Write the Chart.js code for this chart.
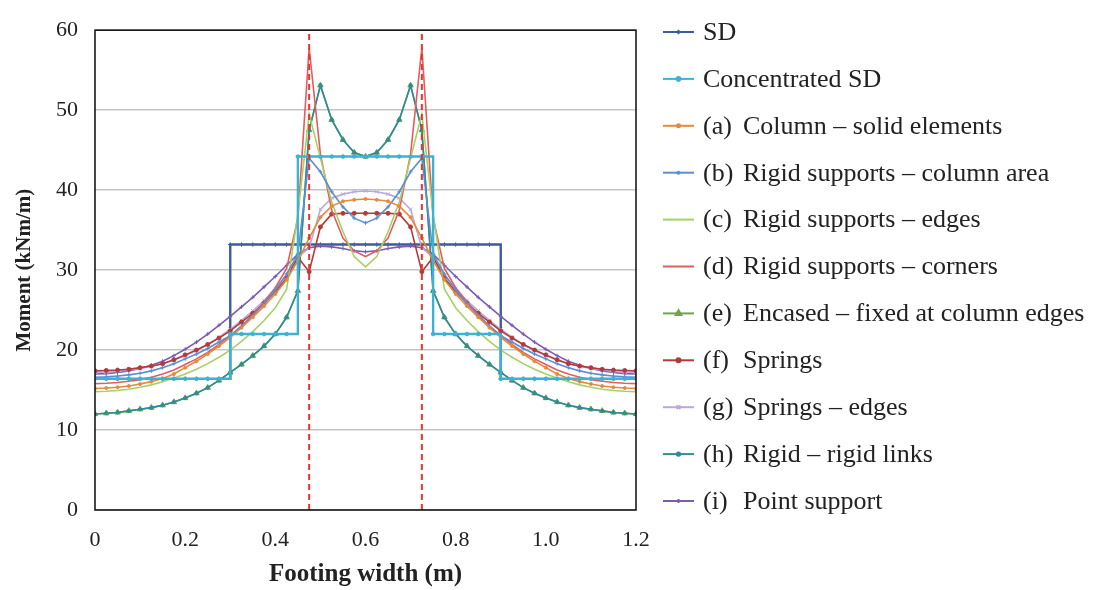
<!DOCTYPE html>
<html>
<head>
<meta charset="utf-8">
<title>Moment across footing width</title>
<script src="https://cdn.jsdelivr.net/npm/chart.js@4.4.1/dist/chart.umd.min.js"></script>
<style>
  html, body { margin: 0; padding: 0; background: #fff; }
</style>
</head>
<body>
<canvas id="momentChart" width="1097" height="590"></canvas>
<script>
// Footing width positions (m), one value every 25 mm
const widths = [
  0, 0.025, 0.05, 0.075, 0.1, 0.125, 0.15, 0.175, 0.2, 0.225, 0.25, 0.275,
  0.3, 0.325, 0.35, 0.375, 0.4, 0.425, 0.45, 0.475, 0.5, 0.525, 0.55, 0.575,
  0.6, 0.625, 0.65, 0.675, 0.7, 0.725, 0.75, 0.775, 0.8, 0.825, 0.85, 0.875,
  0.9, 0.925, 0.95, 0.975, 1.0, 1.025, 1.05, 1.075, 1.1, 1.125, 1.15, 1.175, 1.2,
];

// Column faces (m) and the moment range (kNm/m) of the guide lines
const columnEdges = [0.475, 0.725];
const momentRange = [0, 60];

const seriesNames = [
  "SD",
  "Concentrated SD",
  "(a) Column – solid elements",
  "(b) Rigid supports – column area",
  "(c) Rigid supports – edges",
  "(d) Rigid supports – corners",
  "(e) Encased – fixed at column edges",
  "(f) Springs",
  "(g) Springs – edges",
  "(h) Rigid – rigid links",
  "(i) Point support",
];

// Moments (kNm/m)
const sd = [
  16.4, 16.4, 16.4, 16.4, 16.4, 16.4, 16.4, 16.4, 16.4, 16.4, 16.4, 16.4,
  33.2, 33.2, 33.2, 33.2, 33.2, 33.2, 33.2, 33.2, 33.2, 33.2, 33.2, 33.2,
  33.2, 33.2, 33.2, 33.2, 33.2, 33.2, 33.2, 33.2, 33.2, 33.2, 33.2, 33.2,
  16.4, 16.4, 16.4, 16.4, 16.4, 16.4, 16.4, 16.4, 16.4, 16.4, 16.4, 16.4, 16.4,
];
const concentratedSd = [
  16.4, 16.4, 16.4, 16.4, 16.4, 16.4, 16.4, 16.4, 16.4, 16.4, 16.4, 16.4,
  22.0, 22.0, 22.0, 22.0, 22.0, 22.0,
  44.2, 44.2, 44.2, 44.2, 44.2, 44.2, 44.2, 44.2, 44.2, 44.2, 44.2, 44.2,
  22.0, 22.0, 22.0, 22.0, 22.0, 22.0,
  16.4, 16.4, 16.4, 16.4, 16.4, 16.4, 16.4, 16.4, 16.4, 16.4, 16.4, 16.4, 16.4,
];
const columnSolid = [
  15.2, 15.25, 15.35, 15.5, 15.75, 16.05, 16.45, 17.0, 17.8, 18.6, 19.5, 20.5,
  21.6, 22.8, 24.1, 25.5, 27.0, 28.8, 31.2, 34.0, 36.6, 38.0, 38.6, 38.8,
  38.9, 38.8, 38.6, 38.0, 36.6, 34.0, 31.2, 28.8, 27.0, 25.5, 24.1, 22.8,
  21.6, 20.5, 19.5, 18.6, 17.8, 17.0, 16.45, 16.05, 15.75, 15.5, 15.35, 15.25, 15.2,
];
const rigidColumnArea = [
  16.6, 16.65, 16.75, 16.9, 17.1, 17.4, 17.8, 18.3, 18.9, 19.5, 20.2, 21.0,
  21.8, 23.0, 24.3, 25.8, 27.5, 29.5, 32.0, 44.0, 42.3, 39.8, 37.9, 36.5,
  35.9, 36.5, 37.9, 39.8, 42.3, 44.0, 32.0, 29.5, 27.5, 25.8, 24.3, 23.0,
  21.8, 21.0, 20.2, 19.5, 18.9, 18.3, 17.8, 17.4, 17.1, 16.9, 16.75, 16.65, 16.6,
];
const rigidEdges = [
  14.8, 14.85, 14.95, 15.1, 15.35, 15.65, 16.05, 16.5, 17.0, 17.6, 18.3, 19.1,
  20.0, 21.1, 22.3, 23.7, 25.3, 27.6, 37.0, 49.5, 44.0, 38.5, 34.8, 31.7,
  30.4, 31.7, 34.8, 38.5, 44.0, 49.5, 37.0, 27.6, 25.3, 23.7, 22.3, 21.1,
  20.0, 19.1, 18.3, 17.6, 17.0, 16.5, 16.05, 15.65, 15.35, 15.1, 14.95, 14.85, 14.8,
];
const rigidCorners = [
  15.8, 15.85, 15.95, 16.1, 16.3, 16.6, 17.0, 17.5, 18.2, 18.9, 19.7, 20.7,
  21.8, 23.0, 24.4, 26.0, 27.8, 30.2, 36.5, 57.8, 44.5, 37.5, 34.0, 32.4,
  31.7, 32.4, 34.0, 37.5, 44.5, 57.8, 36.5, 30.2, 27.8, 26.0, 24.4, 23.0,
  21.8, 20.7, 19.7, 18.9, 18.2, 17.5, 17.0, 16.6, 16.3, 16.1, 15.95, 15.85, 15.8,
];
const encased = [
  12.0, 12.1, 12.2, 12.4, 12.6, 12.8, 13.1, 13.5, 14.0, 14.6, 15.3, 16.2,
  17.2, 18.2, 19.3, 20.5, 22.0, 24.1, 27.4, 47.5, 53.1, 48.8, 46.3, 44.7,
  44.2, 44.7, 46.3, 48.8, 53.1, 47.5, 27.4, 24.1, 22.0, 20.5, 19.3, 18.2,
  17.2, 16.2, 15.3, 14.6, 14.0, 13.5, 13.1, 12.8, 12.6, 12.4, 12.2, 12.1, 12.0,
];
const springs = [
  17.4, 17.45, 17.5, 17.6, 17.8, 18.0, 18.3, 18.8, 19.4, 20.0, 20.7, 21.5,
  22.4, 23.5, 24.6, 25.9, 27.3, 29.0, 31.6, 29.8, 35.4, 37.0, 37.1, 37.1,
  37.1, 37.1, 37.1, 37.0, 35.4, 29.8, 31.6, 29.0, 27.3, 25.9, 24.6, 23.5,
  22.4, 21.5, 20.7, 20.0, 19.4, 18.8, 18.3, 18.0, 17.8, 17.6, 17.5, 17.45, 17.4,
];
const springsEdges = [
  17.2, 17.25, 17.35, 17.5, 17.7, 17.95, 18.3, 18.75, 19.3, 19.95, 20.7, 21.6,
  22.6, 23.7, 24.9, 26.2, 27.7, 29.4, 31.6, 32.8, 37.6, 39.0, 39.5, 39.8,
  39.9, 39.8, 39.5, 39.0, 37.6, 32.8, 31.6, 29.4, 27.7, 26.2, 24.9, 23.7,
  22.6, 21.6, 20.7, 19.95, 19.3, 18.75, 18.3, 17.95, 17.7, 17.5, 17.35, 17.25, 17.2,
];
const rigidLinks = [
  12.0, 12.1, 12.2, 12.4, 12.6, 12.8, 13.1, 13.5, 14.0, 14.6, 15.3, 16.2,
  17.2, 18.2, 19.3, 20.5, 22.0, 24.1, 27.4, 47.5, 53.1, 48.8, 46.3, 44.7,
  44.2, 44.7, 46.3, 48.8, 53.1, 47.5, 27.4, 24.1, 22.0, 20.5, 19.3, 18.2,
  17.2, 16.2, 15.3, 14.6, 14.0, 13.5, 13.1, 12.8, 12.6, 12.4, 12.2, 12.1, 12.0,
];
const pointSupport = [
  17.0, 17.05, 17.2, 17.4, 17.7, 18.1, 18.6, 19.3, 20.1, 21.0, 22.0, 23.1,
  24.2, 25.4, 26.6, 27.9, 29.2, 30.6, 32.0, 32.8, 33.0, 32.9, 32.7, 32.4,
  32.3, 32.4, 32.7, 32.9, 33.0, 32.8, 32.0, 30.6, 29.2, 27.9, 26.6, 25.4,
  24.2, 23.1, 22.0, 21.0, 20.1, 19.3, 18.6, 18.1, 17.7, 17.4, 17.2, 17.05, 17.0,
];

const FONTE = "'Liberation Serif', 'DejaVu Serif', serif";

function serie(label, valores, cor, extra) {
  return {
    label,
    data: widths.map((x, i) => ({ x, y: valores[i] })),
    borderColor: cor,
    backgroundColor: cor,
    pointBorderColor: cor,
    pointBackgroundColor: cor,
    borderWidth: 1.6,
    pointRadius: 0,
    pointBorderWidth: 1,
    ...extra,
  };
}

const guias = columnEdges.map((x) => ({
  label: "",
  data: momentRange.map((y) => ({ x, y })),
  borderColor: "#e8352f",
  borderWidth: 2,
  borderDash: [6, 4],
  pointRadius: 0,
}));

// order 1 = desenhado por baixo das outras curvas
const series = [
  serie(seriesNames[0], sd, "#3d5c9c", { stepped: true, borderWidth: 2.4, pointStyle: "cross", pointRadius: 2.2, order: 1 }),
  serie(seriesNames[1], concentratedSd, "#3db2d2", { stepped: true, borderWidth: 2.4, pointStyle: "circle", pointRadius: 1.8 }),
  serie(seriesNames[2], columnSolid, "#e58a3c", { pointStyle: "circle", pointRadius: 1.5 }),
  serie(seriesNames[3], rigidColumnArea, "#5a8ed6", { pointStyle: "cross", pointRadius: 2 }),
  serie(seriesNames[4], rigidEdges, "#a8d065"),
  serie(seriesNames[5], rigidCorners, "#e35d5d"),
  serie(seriesNames[6], encased, "#6ea54a", { pointStyle: "triangle", pointRadius: 3.2, order: 1 }),
  serie(seriesNames[7], springs, "#b23a3a", { pointStyle: "circle", pointRadius: 2 }),
  serie(seriesNames[8], springsEdges, "#b9a9dc", { pointStyle: "crossRot", pointRadius: 2.6 }),
  serie(seriesNames[9], rigidLinks, "#2f8c98", { pointStyle: "circle", pointRadius: 1.6 }),
  serie(seriesNames[10], pointSupport, "#7b5cb3", { pointStyle: "cross", pointRadius: 2 }),
];

// legenda desenhada a direita do grafico
const legendaLateral = {
  id: "legendaLateral",
  afterDraw(chart) {
    const ctx = chart.ctx;
    ctx.save();
    ctx.font = `26px ${FONTE}`;
    ctx.textBaseline = "middle";
    series.forEach((ds, i) => {
      const y = 32 + i * 46.9;
      ctx.strokeStyle = ds.borderColor;
      ctx.lineWidth = 2;
      ctx.setLineDash([]);
      ctx.beginPath();
      ctx.moveTo(663, y);
      ctx.lineTo(694, y);
      ctx.stroke();
      if (ds.pointRadius > 0) {
        ctx.fillStyle = ds.borderColor;
        Chart.helpers.drawPoint(ctx, {
          pointStyle: ds.pointStyle,
          radius: ds.pointRadius,
          rotation: 0,
          borderWidth: 1,
        }, 678.5, y);
      }
      ctx.fillStyle = "#222";
      const partes = ds.label.match(/^(\(\w\))\s+(.*)$/);
      if (partes) {
        ctx.fillText(partes[1], 703, y + 1);
        ctx.fillText(partes[2], 743, y + 1);
      } else {
        ctx.fillText(ds.label, 703, y + 1);
      }
    });
    ctx.restore();
  },
};

const molduraGrafico = {
  id: "molduraGrafico",
  afterDraw(chart) {
    const { ctx, chartArea: a } = chart;
    ctx.save();
    ctx.strokeStyle = "#1a1a1a";
    ctx.lineWidth = 1.6;
    ctx.strokeRect(a.left, a.top, a.right - a.left, a.bottom - a.top);
    ctx.restore();
  },
};

new Chart(document.getElementById("momentChart"), {
  type: "line",
  data: { datasets: [...guias, ...series] },
  options: {
    responsive: false,
    animation: false,
    devicePixelRatio: 1,
    layout: { padding: { top: 24, right: 461, left: 0, bottom: 0 } },
    plugins: { legend: { display: false }, tooltip: { enabled: false } },
    scales: {
      x: {
        type: "linear",
        min: 0,
        max: 1.2,
        grid: { display: false, drawTicks: false },
        border: { display: false },
        ticks: {
          stepSize: 0.2,
          padding: 17,
          color: "#222",
          font: { family: FONTE, size: 22 },
          callback: (v) => (v === 0 ? "0" : v.toFixed(1)),
        },
        title: {
          display: true,
          text: "Footing width (m)",
          color: "#222",
          font: { family: FONTE, size: 25, weight: "bold" },
          padding: { top: 0, bottom: 0 },
        },
        afterFit: (s) => { s.height = 80; },
      },
      y: {
        min: 0,
        max: 60,
        grid: { color: "#c4c4c4", lineWidth: 1.5, drawTicks: false },
        border: { display: false },
        ticks: {
          stepSize: 10,
          padding: 17,
          color: "#222",
          font: { family: FONTE, size: 22 },
        },
        title: {
          display: true,
          text: "Moment (kNm/m)",
          color: "#222",
          font: { family: FONTE, size: 21, weight: "bold" },
          padding: { top: 12, bottom: 0 },
        },
        afterFit: (s) => { s.width = 95; },
      },
    },
  },
  plugins: [legendaLateral, molduraGrafico],
});
</script>
</body>
</html>
